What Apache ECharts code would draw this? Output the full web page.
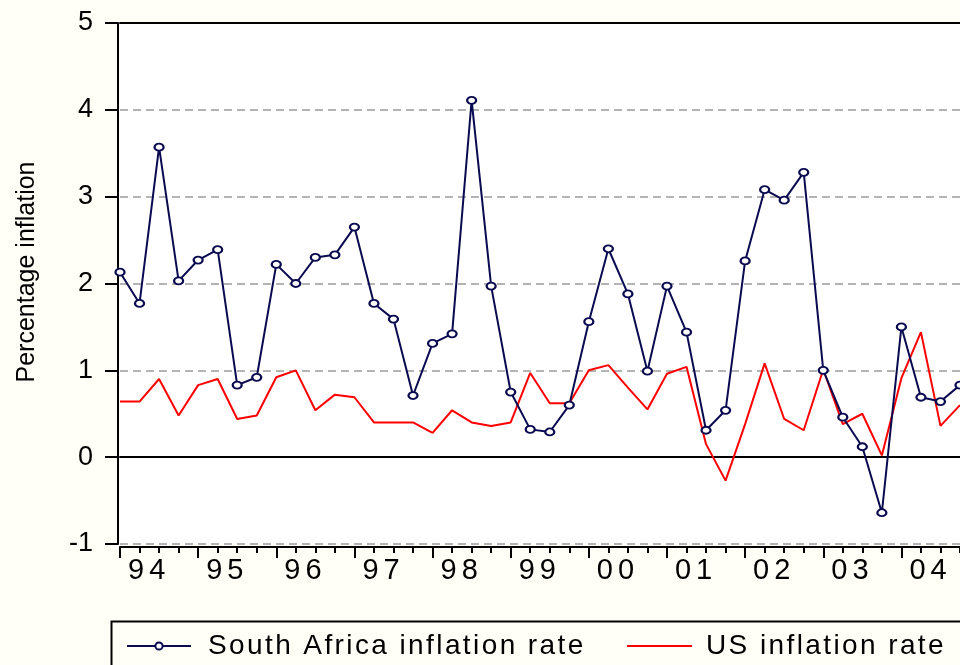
<!DOCTYPE html>
<html>
<head>
<meta charset="utf-8">
<script src="https://cdn.jsdelivr.net/npm/echarts@6/dist/echarts.min.js"></script>
<style>
html,body{margin:0;padding:0;background:#FFFFF7;}
#chart{width:960px;height:665px;}
</style>
</head>
<body>
<div id="chart"></div>
<script>
// ---- data ----
const quarters = [
  '94Q1','94Q2','94Q3','94Q4','95Q1','95Q2','95Q3','95Q4','96Q1','96Q2','96Q3','96Q4',
  '97Q1','97Q2','97Q3','97Q4','98Q1','98Q2','98Q3','98Q4','99Q1','99Q2','99Q3','99Q4',
  '00Q1','00Q2','00Q3','00Q4','01Q1','01Q2','01Q3','01Q4','02Q1','02Q2','02Q3','02Q4',
  '03Q1','03Q2','03Q3','03Q4','04Q1','04Q2','04Q3','04Q4'
];
const yearLabels = ['94','95','96','97','98','99','00','01','02','03','04'];
const saInflation = [
  2.13,1.77,3.57,2.03,2.27,2.39,0.83,0.92,2.22,2.00,2.30,2.33,
  2.65,1.77,1.59,0.71,1.31,1.42,4.11,1.97,0.75,0.32,0.29,0.60,
  1.56,2.40,1.88,0.99,1.97,1.44,0.31,0.54,2.26,3.08,2.96,3.28,
  1.00,0.46,0.12,-0.64,1.50,0.69,0.64,0.83
];
const usInflation = [
  0.64,0.64,0.90,0.48,0.83,0.90,0.44,0.48,0.92,1.00,0.54,0.72,
  0.69,0.40,0.40,0.40,0.28,0.54,0.40,0.36,0.40,0.97,0.62,0.62,
  1.00,1.06,0.80,0.55,0.96,1.04,0.15,-0.27,0.38,1.08,0.44,0.31,
  1.01,0.38,0.50,0.02,0.91,1.44,0.36,0.60
];
const yTicks = {min: -1, max: 5, interval: 1};
const seriesNames = ['South Africa inflation rate', 'US inflation rate'];
const yTitle = 'Percentage inflation';

// letter spacing for EViews-like spaced text (x labels and legend)
(function(){
  const P = CanvasRenderingContext2D.prototype;
  if (!('letterSpacing' in P)) return;
  const orig = P.fillText;
  P.fillText = function(){
    const m = /(\d+(?:\.\d+)?)px/.exec(this.font);
    const sz = m ? +m[1] : 0;
    let ls = null;
    if (sz === 29) ls = '5px'; else if (sz === 28) ls = '2.4px';
    if (ls) {
      const prev = this.letterSpacing;
      this.letterSpacing = ls;
      orig.apply(this, arguments);
      this.letterSpacing = prev;
    } else {
      orig.apply(this, arguments);
    }
  };
})();

const FONT = 'Liberation Sans';
const NAVY = '#0A0A50';
const chart = echarts.init(document.getElementById('chart'), null, {renderer: 'canvas'});

const hiddenAxisBase = {
  type: 'category', data: quarters, boundaryGap: false,
  axisLabel: {show: false}, splitLine: {show: false}
};

chart.setOption({
  backgroundColor: '#FFFFF7',
  animation: false,
  grid: {
    left: 120, top: 23, right: 0, height: 521,
    show: true, backgroundColor: '#FFFFFF', borderWidth: 0
  },
  xAxis: [
    {
      type: 'category', data: quarters, boundaryGap: false, position: 'bottom', offset: 3,
      axisLine: {show: true, onZero: false, lineStyle: {color: '#000', width: 2}},
      axisTick: {show: true, interval: 0, length: 6, lineStyle: {color: '#000', width: 2}},
      axisLabel: {
        show: true,
        interval: function(i){ return i % 4 === 0; },
        formatter: function(v, i){ return yearLabels[Math.floor(i / 4)]; },
        align: 'left', padding: [0, 0, 0, 8], margin: 9,
        fontFamily: FONT, fontSize: 29, color: '#000'
      },
      splitLine: {show: false}
    },
    Object.assign({}, hiddenAxisBase, {
      position: 'bottom', offset: 3,
      axisLine: {show: false, onZero: false},
      axisTick: {show: true, interval: function(i){ return i % 4 === 0; }, length: 11, lineStyle: {color: '#000', width: 2}}
    }),
    Object.assign({}, hiddenAxisBase, {
      position: 'top',
      axisLine: {show: true, onZero: false, lineStyle: {color: '#000', width: 2}},
      axisTick: {show: false}
    }),
    // zero reference line
    Object.assign({}, hiddenAxisBase, {
      position: 'bottom',
      axisLine: {show: true, onZero: true, lineStyle: {color: '#000', width: 2}},
      axisTick: {show: false}
    })
  ],
  yAxis: {
    type: 'value', min: yTicks.min, max: yTicks.max, interval: yTicks.interval,
    offset: 2,
    axisLine: {show: true, onZero: false, lineStyle: {color: '#000', width: 2}},
    axisTick: {show: true, length: 13, lineStyle: {color: '#000', width: 2}},
    axisLabel: {margin: 25, fontFamily: FONT, fontSize: 27, color: '#000'},
    splitLine: {show: true, lineStyle: {color: '#B4B4B4', width: 2, type: [8, 5]}}
  },
  legend: [
    {
      data: [seriesNames[0]], left: 126, top: 632, padding: 0,
      itemWidth: 64, itemHeight: 9,
      textStyle: {fontFamily: FONT, fontSize: 28, color: '#000', padding: [0, 0, 0, 12]}
    },
    {
      data: [{name: seriesNames[1], icon: 'rect'}], left: 627, top: 632, padding: 0,
      itemWidth: 65, itemHeight: 2,
      textStyle: {fontFamily: FONT, fontSize: 28, color: '#000', padding: [0, 0, 0, 9]}
    }
  ],
  graphic: [
    {
      type: 'rect', left: 109, top: 619, silent: true,
      shape: {width: 900, height: 100},
      style: {fill: 'none', stroke: '#000', lineWidth: 2}
    },
    {
      type: 'text', x: 27, y: 272, rotation: Math.PI / 2, silent: true,
      style: {text: yTitle, fontFamily: FONT, fontSize: 25, fill: '#000', align: 'center', verticalAlign: 'middle'}
    }
  ],
  series: [
    {
      name: seriesNames[1], type: 'line', data: usInflation, z: 2,
      symbol: 'none', color: '#FF0000',
      lineStyle: {color: '#FF0000', width: 2}
    },
    {
      name: seriesNames[0], type: 'line', data: saInflation, z: 3,
      symbol: 'emptyCircle', symbolSize: [9, 7], showAllSymbol: true, color: NAVY,
      lineStyle: {color: NAVY, width: 2},
      itemStyle: {color: NAVY, borderWidth: 2}
    }
  ]
});
</script>
</body>
</html>
